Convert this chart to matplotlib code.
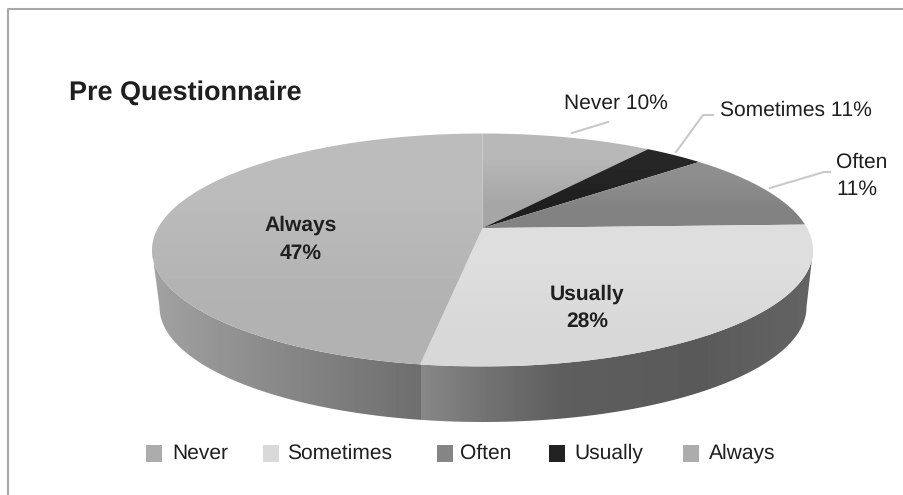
import numpy as np
import matplotlib
matplotlib.use('Agg')
import matplotlib.pyplot as plt
from matplotlib.patches import Polygon, Rectangle

plt.rcParams['font.family'] = ['Liberation Sans', 'DejaVu Sans']
plt.rcParams['text.hinting'] = 'no_hinting'
plt.rcParams['text.hinting_factor'] = 1

# data (black wedge is about 3.5 although its label says 11%)
categories = ['Never', 'Sometimes', 'Often', 'Usually', 'Always']
values = [10, 3.5, 11, 28, 47.5]
legend_colors = ['#acacac', '#d9d9d9', '#858585', '#222222', '#acacac']
# top colour / bottom colour of each wedge
face_top = ['#b8b8b8', '#262626', '#8e8e8e', '#dedede', '#bcbcbc']
face_bot = ['#a6a6a6', '#1e1e1e', '#828282', '#d8d8d8', '#b2b2b2']

# ellipses of the 3d disc, in pixels
cx, cy, rx, ry = 482.5, 250, 330.5, 116.5
bx, by, brx, bry = 483, 307, 323.5, 115
shift = 0.188  # the pie centre sits above the centre of the ellipse

fig = plt.figure(figsize=(9.04, 4.95), dpi=100)
ax = fig.add_axes([0, 0, 1, 1])
ax.set_xlim(0, 904)
ax.set_ylim(495, 0)
ax.axis('off')


def project(theta):
    # theta clockwise from top, radians; moves disc centre up to the apex
    u, v = np.sin(theta), np.cos(theta)
    k = 1 + shift * v
    return u * np.sqrt(1 - shift ** 2) / k, (v + shift) / k


def gray(h):
    return int(h[1:3], 16)


# border of the chart area
ax.plot([8.5, 8.5, 904], [495, 8.5, 8.5], color='#a8a8a8', lw=1.5, zorder=1)

# side of the disc: lower half of the top rim plus lower half of the base
phi = np.linspace(0, np.pi, 300)
side_x = np.r_[cx + rx * np.cos(phi), bx + brx * np.cos(phi[::-1])]
side_y = np.r_[cy + ry * np.sin(phi), by + bry * np.sin(phi[::-1])]

cum = np.cumsum([0] + values) / np.sum(values) * 2 * np.pi
split_x = cx + rx * project(cum[4])[0]

# one strip of shades for the whole side, with a step where always meets usually
columns = np.arange(150, 815)
shades = np.where(columns < split_x,
                  np.interp(columns, [150, 260, split_x], [162, 140, 110]),
                  np.interp(columns, [split_x, 480, 560, 700, 813], [136, 116, 94, 90, 100]))
side = Polygon(np.c_[side_x, side_y], fc='none', ec='none', zorder=2)
ax.add_patch(side)
im = ax.imshow(shades.reshape(1, -1), cmap='gray', vmin=0, vmax=255, extent=[150, 815, 430, 220],
               aspect='auto', interpolation='nearest', zorder=2)
im.set_clip_path(side)

# top face wedges
for i in range(len(values)):
    t = np.linspace(cum[i], cum[i + 1], 120)
    px, py = project(t)
    xs = cx + rx * np.r_[0, px]
    ys = cy - ry * np.r_[shift, py]
    wedge = Polygon(np.c_[xs, ys], fc='none', ec='none', zorder=3)
    ax.add_patch(wedge)
    g = np.array([[gray(face_top[i])], [gray(face_bot[i])]], dtype=float)
    im = ax.imshow(g, cmap='gray', vmin=0, vmax=255, extent=[xs.min(), xs.max(), ys.max(), ys.min()],
                   aspect='auto', interpolation='bilinear', zorder=3)
    im.set_clip_path(wedge)

ax.set_xlim(0, 904)
ax.set_ylim(495, 0)

# leader lines
lc = '#c9c9c9'
ax.plot([572, 608], [133, 122], color=lc, lw=1.5, zorder=4)
ax.plot([676, 703, 713], [152, 115, 115], color=lc, lw=1.5, zorder=4)
ax.plot([770, 824, 830], [188, 172, 172], color=lc, lw=1.5, zorder=4)

# labels
tc = '#1f1f1f'
fs = 15.3
ax.text(69, 93, 'Pre Questionnaire', fontsize=19.1, fontweight='bold', color=tc, va='center', ha='left', zorder=5)
ax.text(564.5, 103, 'Never 10%', fontsize=fs, color=tc, va='center', ha='left', zorder=5)
ax.text(720, 110, 'Sometimes 11%', fontsize=fs, color=tc, va='center', ha='left', zorder=5)
ax.text(836, 162, 'Often', fontsize=fs, color=tc, va='center', ha='left', zorder=5)
ax.text(836, 189, '11%', fontsize=fs, color=tc, va='center', ha='left', zorder=5)
ax.text(300.5, 225, 'Always', fontsize=fs, fontweight='bold', color=tc, va='center', ha='center', zorder=5)
ax.text(300.5, 253, '47%', fontsize=fs, fontweight='bold', color=tc, va='center', ha='center', zorder=5)
ax.text(587.5, 294, 'Usually', fontsize=fs, fontweight='bold', color=tc, va='center', ha='center', zorder=5)
ax.text(587.5, 321, '28%', fontsize=fs, fontweight='bold', color=tc, va='center', ha='center', zorder=5)

# legend
box_x = [146, 263, 437, 549, 683]
txt_x = [172, 287, 460, 574, 709]
for i, name in enumerate(categories):
    ax.add_patch(Rectangle((box_x[i], 445), 16, 17, fc=legend_colors[i], ec='none', zorder=5))
    ax.text(txt_x[i], 453, name, fontsize=fs, color=tc, va='center', ha='left', zorder=5)

fig.savefig('out.png', dpi=100)
